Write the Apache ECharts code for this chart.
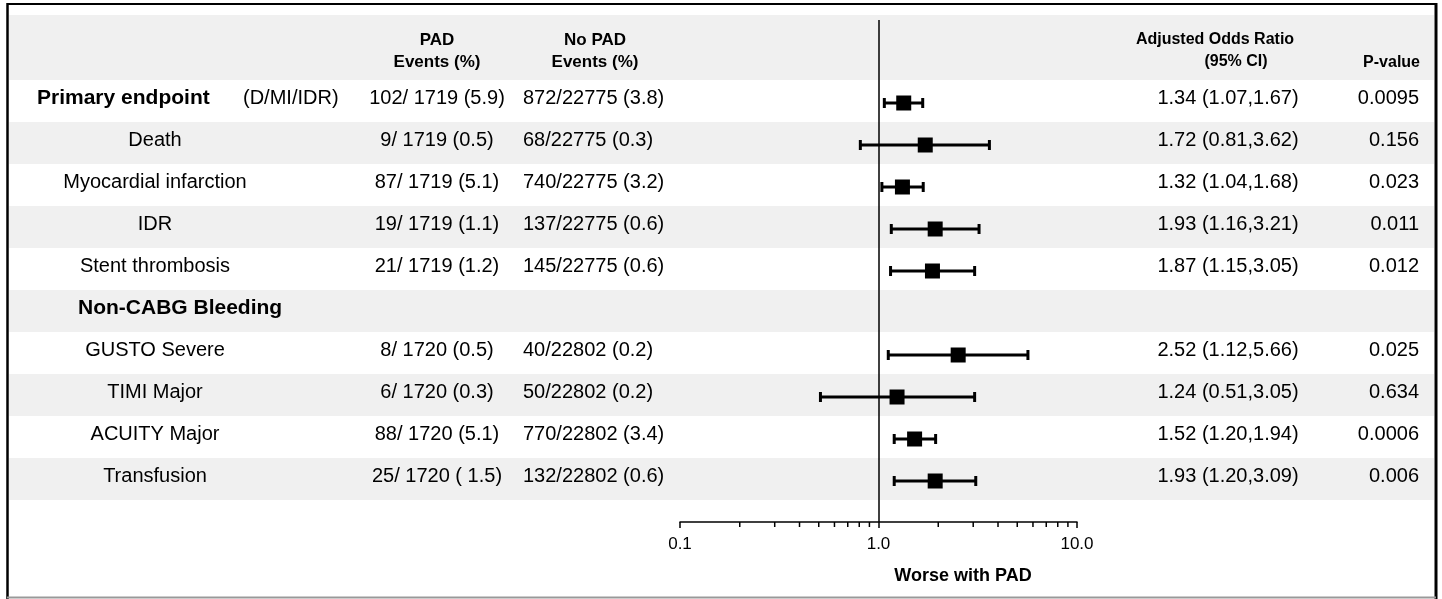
<!DOCTYPE html>
<html>
<head>
<meta charset="utf-8">
<title>PAD forest plot</title>
<script src="https://cdn.jsdelivr.net/npm/echarts@6/dist/echarts.min.js"></script>
<style>
  html, body { margin: 0; padding: 0; background: #fff; }
  #main { width: 1442px; height: 599px; }
</style>
</head>
<body>
<div id="main"></div>
<script>
// rows, top to bottom
const rowLabels = ['Primary endpoint', 'Death', 'Myocardial infarction', 'IDR', 'Stent thrombosis',
  'Non-CABG Bleeding', 'GUSTO Severe', 'TIMI Major', 'ACUITY Major', 'Transfusion']
const rowNotes = ['(D/MI/IDR)', '', '', '', '', '', '', '', '', '']
const boldRows = [true, false, false, false, false, true, false, false, false, false]
const padEvents = ['102/ 1719 (5.9)', '9/ 1719 (0.5)', '87/ 1719 (5.1)', '19/ 1719 (1.1)', '21/ 1719 (1.2)',
  '', '8/ 1720 (0.5)', '6/ 1720 (0.3)', '88/ 1720 (5.1)', '25/ 1720 ( 1.5)']
const noPadEvents = ['872/22775 (3.8)', '68/22775 (0.3)', '740/22775 (3.2)', '137/22775 (0.6)', '145/22775 (0.6)',
  '', '40/22802 (0.2)', '50/22802 (0.2)', '770/22802 (3.4)', '132/22802 (0.6)']
const oddsRatio = [1.34, 1.72, 1.32, 1.93, 1.87, null, 2.52, 1.24, 1.52, 1.93]
const ciLow = [1.07, 0.81, 1.04, 1.16, 1.15, null, 1.12, 0.51, 1.20, 1.20]
const ciHigh = [1.67, 3.62, 1.68, 3.21, 3.05, null, 5.66, 3.05, 1.94, 3.09]
const pValues = ['0.0095', '0.156', '0.023', '0.011', '0.012', '', '0.025', '0.634', '0.0006', '0.006']
const stripeRows = [1, 3, 5, 7, 9]
const minorTicks = [0.2, 0.3, 0.4, 0.5, 0.6, 0.7, 0.8, 0.9, 2, 3, 4, 5, 6, 7, 8, 9]

// layout (px)
const ROW_H = 42
const ROW0_Y = 101
const GRID_TOP = 20
const GRID_BOTTOM = 522
const FONT = '"Liberation Sans", Arial, sans-serif'
const font = (size, bold) => (bold ? 'bold ' : '') + size + 'px ' + FONT

function txt(x, y, text, size, bold, align) {
  return {
    type: 'text', x, y,
    style: { text, font: font(size, bold), fill: '#000', textAlign: align || 'center', textVerticalAlign: 'middle' }
  }
}

const chart = echarts.init(document.getElementById('main'))

const option = {
  animation: false,
  backgroundColor: '#fff',
  grid: { left: 680, width: 397, top: GRID_TOP, height: GRID_BOTTOM - GRID_TOP },
  xAxis: {
    type: 'log',
    logBase: 10,
    min: 0.1,
    max: 10,
    axisLine: { show: true, onZero: false, lineStyle: { color: '#000', width: 1.5 } },
    axisTick: { show: true, length: 6, lineStyle: { color: '#000', width: 1.5 } },
    axisLabel: { formatter: (v) => Number(v).toFixed(1), fontSize: 17, color: '#000', fontFamily: FONT, margin: 14 },
    splitLine: { show: false }
  },
  yAxis: {
    type: 'value',
    inverse: true,
    min: (GRID_TOP - ROW0_Y) / ROW_H,
    max: (GRID_BOTTOM - ROW0_Y) / ROW_H,
    show: false
  },
  graphic: [
    // header band and frame
    { type: 'rect', z: -10, shape: { x: 9, y: 15, width: 1425, height: 65 }, style: { fill: '#f0f0f0' } },
    { type: 'line', z: 50, shape: { x1: 7, y1: 4, x2: 1437, y2: 4 }, style: { stroke: '#000', lineWidth: 2 } },
    { type: 'line', z: 50, shape: { x1: 7.5, y1: 3, x2: 7.5, y2: 599 }, style: { stroke: '#000', lineWidth: 2.5 } },
    { type: 'line', z: 50, shape: { x1: 1436, y1: 3, x2: 1436, y2: 599 }, style: { stroke: '#000', lineWidth: 3 } },
    { type: 'line', z: 50, shape: { x1: 7, y1: 597.5, x2: 1436, y2: 597.5 }, style: { stroke: '#999', lineWidth: 2 } },
    // column headers
    Object.assign(txt(437, 40, 'PAD', 17, true), { z: 20 }),
    Object.assign(txt(437, 62, 'Events (%)', 17, true), { z: 20 }),
    Object.assign(txt(595, 40, 'No PAD', 17, true), { z: 20 }),
    Object.assign(txt(595, 62, 'Events (%)', 17, true), { z: 20 }),
    Object.assign(txt(1215, 40, 'Adjusted Odds Ratio', 16, true), { z: 20 }),
    Object.assign(txt(1236, 62, '(95% CI)', 16, true), { z: 20 }),
    Object.assign(txt(1420, 63, 'P-value', 16, true, 'right'), { z: 20 }),
    Object.assign(txt(963, 576, 'Worse with PAD', 18, true), { z: 20 })
  ],
  series: [
    {
      // alternating grey row stripes
      type: 'custom',
      z: 0,
      silent: true,
      data: stripeRows.map((r) => [1, r]),
      encode: { x: 0, y: 1 },
      renderItem(params, api) {
        const r = api.value(1)
        const y0 = api.coord([1, r - 0.5])[1]
        const y1 = api.coord([1, r + 0.5])[1]
        return { type: 'rect', shape: { x: 9, y: y0, width: 1425, height: y1 - y0 }, style: { fill: '#f0f0f0' } }
      }
    },
    {
      // table text
      type: 'custom',
      z: 3,
      silent: true,
      data: rowLabels.map((_, i) => [1, i]),
      encode: { x: 0, y: 1 },
      renderItem(params, api) {
        const i = params.dataIndex
        const y = api.coord([1, api.value(1)])[1] - 3
        const kids = []
        if (rowNotes[i]) {
          kids.push(txt(37, y, rowLabels[i], 21, true, 'left'))
          kids.push(txt(243, y, rowNotes[i], 20, false, 'left'))
        } else if (boldRows[i]) {
          kids.push(txt(78, y, rowLabels[i], 21, true, 'left'))
        } else {
          kids.push(txt(155, y, rowLabels[i], 20, false))
        }
        if (padEvents[i]) kids.push(txt(437, y, padEvents[i], 20, false))
        if (noPadEvents[i]) kids.push(txt(523, y, noPadEvents[i], 20, false, 'left'))
        if (oddsRatio[i] != null) {
          const s = oddsRatio[i].toFixed(2) + ' (' + ciLow[i].toFixed(2) + ',' + ciHigh[i].toFixed(2) + ')'
          kids.push(txt(1228, y, s, 20, false))
        }
        if (pValues[i]) kids.push(txt(1419, y, pValues[i], 20, false, 'right'))
        return { type: 'group', children: kids }
      }
    },
    {
      // minor ticks of the log axis
      type: 'custom',
      z: 3,
      silent: true,
      data: minorTicks.map((v) => [v, 0]),
      encode: { x: 0, y: 1 },
      renderItem(params, api) {
        const x = api.coord([api.value(0), 0])[0]
        const yb = params.coordSys.y + params.coordSys.height
        return { type: 'line', shape: { x1: x, y1: yb, x2: x, y2: yb + 5 }, style: { stroke: '#000', lineWidth: 1.5 } }
      }
    },
    {
      // odds ratio with 95% CI
      type: 'custom',
      z: 5,
      data: oddsRatio.map((v, i) => (v == null ? null : [v, i, ciLow[i], ciHigh[i]])).filter(Boolean),
      encode: { x: 0, y: 1 },
      renderItem(params, api) {
        const row = api.value(1)
        const c = api.coord([api.value(0), row])
        const l = api.coord([api.value(2), row])
        const h = api.coord([api.value(3), row])
        const y = c[1] + 2
        const st = { stroke: '#000', lineWidth: 3 }
        return {
          type: 'group',
          children: [
            { type: 'line', shape: { x1: l[0], y1: y, x2: h[0], y2: y }, style: st },
            { type: 'line', shape: { x1: l[0], y1: y - 5, x2: l[0], y2: y + 5 }, style: st },
            { type: 'line', shape: { x1: h[0], y1: y - 5, x2: h[0], y2: y + 5 }, style: st },
            { type: 'rect', shape: { x: c[0] - 7.5, y: y - 7.5, width: 15, height: 15 }, style: { fill: '#000' } }
          ]
        }
      },
      markLine: {
        silent: true,
        symbol: 'none',
        label: { show: false },
        lineStyle: { color: '#000', width: 1.5, type: 'solid' },
        data: [{ xAxis: 1 }]
      }
    }
  ]
}

chart.setOption(option)
</script>
</body>
</html>
